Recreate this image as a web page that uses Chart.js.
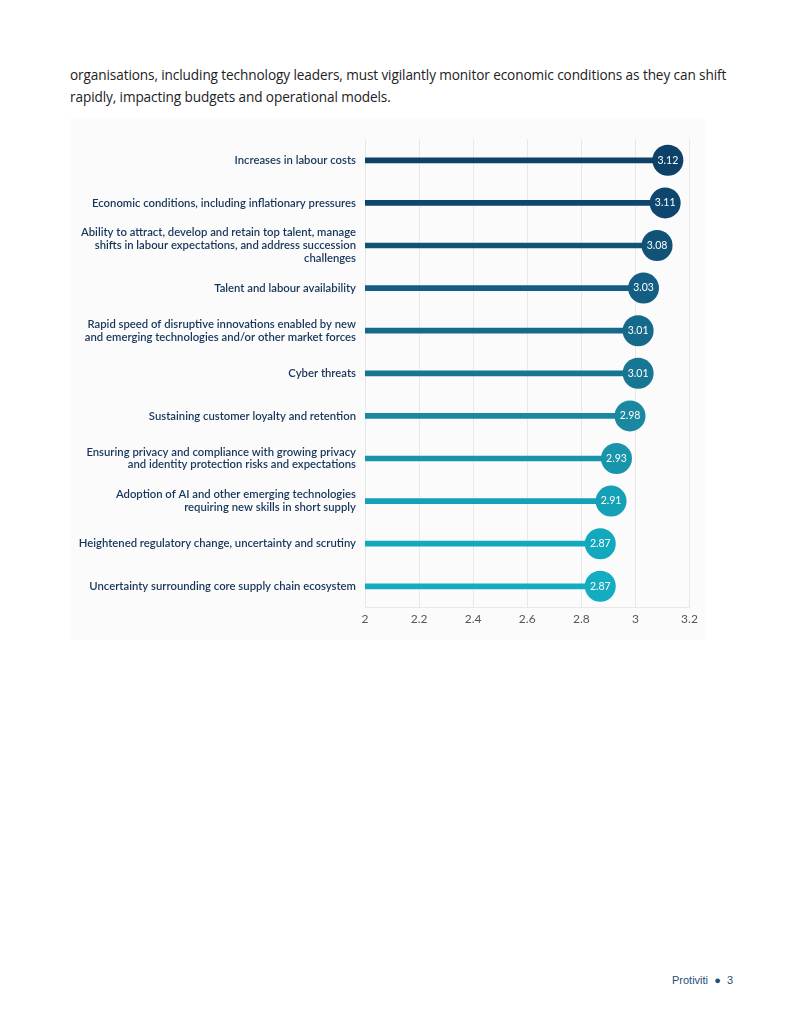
<!DOCTYPE html>
<html>
<head>
<meta charset="utf-8">
<script src="https://cdn.jsdelivr.net/npm/chart.js@4"></script>
<style>
  html, body { margin:0; padding:0; background:#ffffff; }
  body { width:800px; height:1035px; position:relative; overflow:hidden; }
  .para { position:absolute; left:70px; top:64px; width:680px; font-family:"Open Sans","Liberation Sans",sans-serif; font-size:13.6px; line-height:22px; color:#222; letter-spacing:-0.1px; }
  .panel { position:absolute; left:70px; top:118px; width:635px; height:522px; background:#fbfbfb; }
  .footer { position:absolute; left:672px; top:974px; font-family:"Liberation Sans",Arial,sans-serif; font-size:11px; color:#1f4e79; }
</style>
</head>
<body>
<div class="para">organisations, including technology leaders, must vigilantly monitor economic conditions as they can shift rapidly, impacting budgets and operational models.</div>
<div class="panel"><canvas id="c" width="635" height="522"></canvas></div>
<div class="footer">Protiviti &nbsp;●&nbsp; 3</div>
<script>
const categories = [
  "Increases in labour costs",
  "Economic conditions, including inflationary pressures",
  ["Ability to attract, develop and retain top talent, manage", "shifts in labour expectations, and address succession", "challenges"],
  "Talent and labour availability",
  ["Rapid speed of disruptive innovations enabled by new", "and emerging technologies and/or other market forces"],
  "Cyber threats",
  "Sustaining customer loyalty and retention",
  ["Ensuring privacy and compliance with growing privacy", "and identity protection risks and expectations"],
  ["Adoption of AI and other emerging technologies", "requiring new skills in short supply"],
  "Heightened regulatory change, uncertainty and scrutiny",
  "Uncertainty surrounding core supply chain ecosystem"
];
const values = [3.12, 3.11, 3.08, 3.03, 3.01, 3.01, 2.98, 2.93, 2.91, 2.87, 2.87];
const colors = ["#0e4168","#0f466f","#115277","#135e82","#156a8b","#177693","#1a889f","#1895ab","#14a0b6","#12a8bd","#13acc1"];
const xTicks = [2, 2.2, 2.4, 2.6, 2.8, 3, 3.2];

const valueLabels = {
  id: 'valueLabels',
  afterDatasetsDraw(chart) {
    const meta = chart.getDatasetMeta(1);
    const ctx = chart.ctx;
    ctx.save();
    ctx.fillStyle = '#ffffff';
    ctx.font = '10.5px Lato, sans-serif';
    ctx.textAlign = 'center';
    ctx.textBaseline = 'middle';
    meta.data.forEach((pt, i) => {
      ctx.fillText(values[i].toFixed(2), pt.x, pt.y);
    });
    ctx.restore();
  }
};

new Chart(document.getElementById('c'), {
  type: 'bar',
  data: {
    labels: categories,
    datasets: [
      {
        type: 'bar',
        data: values.map(v => [2, v]),
        backgroundColor: colors,
        barThickness: 5,
        borderWidth: 0,
        order: 2
      },
      {
        type: 'line',
        data: values,
        showLine: false,
        pointRadius: 15.5,
        pointHoverRadius: 15.5,
        pointBackgroundColor: colors,
        pointBorderWidth: 0,
        order: 1
      }
    ]
  },
  options: {
    indexAxis: 'y',
    responsive: false,
    animation: false,
    layout: { padding: { top: 21, right: 5, bottom: 10, left: 0 } },
    plugins: { legend: { display: false }, tooltip: { enabled: false } },
    scales: {
      x: {
        min: 2, max: 3.2,
        afterBuildTicks(scale) { scale.ticks = xTicks.map(v => ({ value: v })); },
        ticks: {
          color: '#555',
          font: { family: 'Lato, sans-serif', size: 12 },
          padding: 4,
          callback: v => String(Math.round(v * 10) / 10)
        },
        grid: { color: '#e8e8e8', drawTicks: false, lineWidth: 1 },
        border: { color: '#e8e8e8' }
      },
      y: {
        afterFit(scale) { scale.width = 295; },
        ticks: {
          color: '#17355a',
          font: { family: 'Lato, sans-serif', size: 11.3, weight: '600', lineHeight: 1.12 },
          padding: 9,
          autoSkip: false
        },
        grid: { display: false, drawTicks: false },
        border: { display: false }
      }
    }
  },
  plugins: [valueLabels]
});
</script>
</body>
</html>
